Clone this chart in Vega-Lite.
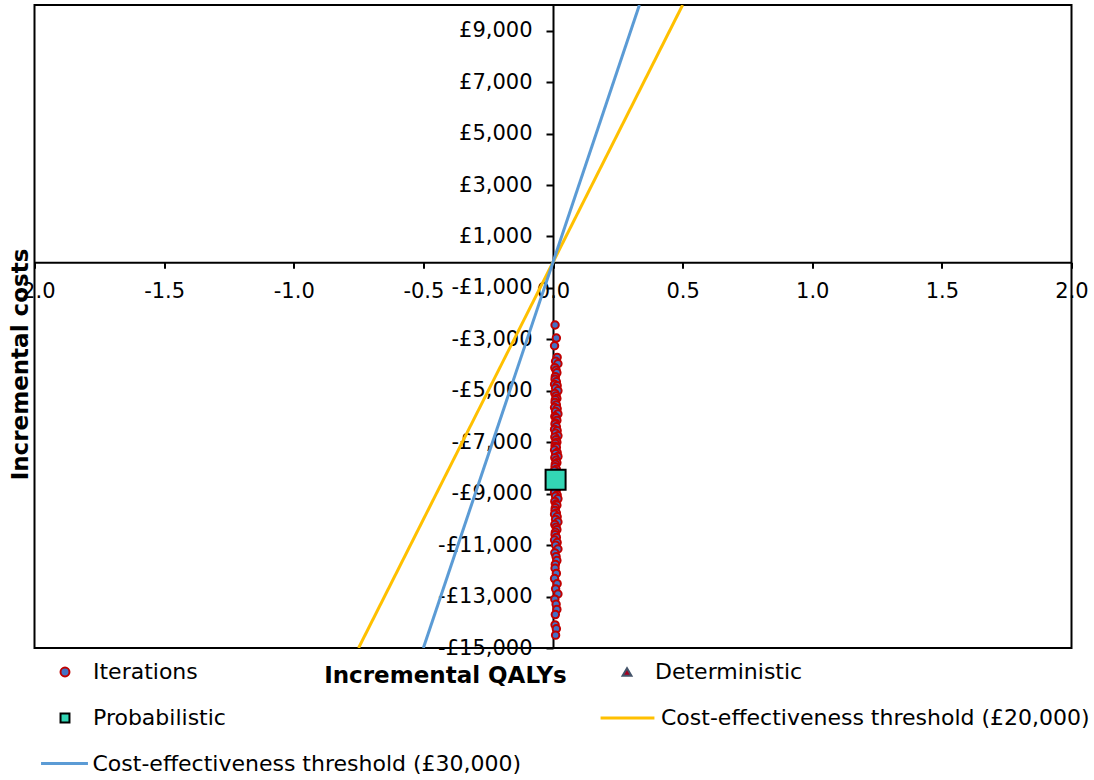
{
  "$schema": "https://vega.github.io/schema/vega-lite/v6.json",
  "width": 1037,
  "height": 643,
  "autosize": {"type": "none"},
  "padding": {"left": 34.5, "top": 5, "right": 22.5, "bottom": 132},
  "config": {
    "view": {"stroke": "black", "strokeWidth": 2},
    "font": "DejaVu Sans"
  },
  "resolve": {"scale": {"color": "independent"}},
  "datasets": {
    "line20": [
      {"series": "Cost-effectiveness threshold (£20,000)", "x": -0.75, "y": -15000},
      {"series": "Cost-effectiveness threshold (£20,000)", "x": 0.5, "y": 10000}
    ],
    "line30": [
      {"series": "Cost-effectiveness threshold (£30,000)", "x": -0.5, "y": -15000},
      {"series": "Cost-effectiveness threshold (£30,000)", "x": 0.3333, "y": 10000}
    ],
    "iterations": [
      {"series": "Iterations", "x": 0.008, "y": -2440}, {"series": "Iterations", "x": 0.013, "y": -2950}, {"series": "Iterations", "x": 0.006, "y": -3250}, {"series": "Iterations", "x": 0.016, "y": -3700},
      {"series": "Iterations", "x": 0.010, "y": -3850}, {"series": "Iterations", "x": 0.019, "y": -3950}, {"series": "Iterations", "x": 0.007, "y": -4100}, {"series": "Iterations", "x": 0.012, "y": -4200},
      {"series": "Iterations", "x": 0.015, "y": -4300}, {"series": "Iterations", "x": 0.009, "y": -4450}, {"series": "Iterations", "x": 0.008, "y": -4550}, {"series": "Iterations", "x": 0.013, "y": -4650},
      {"series": "Iterations", "x": 0.006, "y": -4750}, {"series": "Iterations", "x": 0.016, "y": -4800}, {"series": "Iterations", "x": 0.010, "y": -4900}, {"series": "Iterations", "x": 0.019, "y": -5000},
      {"series": "Iterations", "x": 0.007, "y": -5100}, {"series": "Iterations", "x": 0.012, "y": -5200}, {"series": "Iterations", "x": 0.015, "y": -5300}, {"series": "Iterations", "x": 0.009, "y": -5350},
      {"series": "Iterations", "x": 0.008, "y": -5450}, {"series": "Iterations", "x": 0.013, "y": -5550}, {"series": "Iterations", "x": 0.006, "y": -5650}, {"series": "Iterations", "x": 0.016, "y": -5700},
      {"series": "Iterations", "x": 0.010, "y": -5800}, {"series": "Iterations", "x": 0.019, "y": -5900}, {"series": "Iterations", "x": 0.007, "y": -6000}, {"series": "Iterations", "x": 0.012, "y": -6050},
      {"series": "Iterations", "x": 0.015, "y": -6150}, {"series": "Iterations", "x": 0.009, "y": -6250}, {"series": "Iterations", "x": 0.008, "y": -6300}, {"series": "Iterations", "x": 0.013, "y": -6400},
      {"series": "Iterations", "x": 0.006, "y": -6500}, {"series": "Iterations", "x": 0.016, "y": -6550}, {"series": "Iterations", "x": 0.010, "y": -6650}, {"series": "Iterations", "x": 0.019, "y": -6750},
      {"series": "Iterations", "x": 0.007, "y": -6800}, {"series": "Iterations", "x": 0.012, "y": -6900}, {"series": "Iterations", "x": 0.015, "y": -7000}, {"series": "Iterations", "x": 0.009, "y": -7050},
      {"series": "Iterations", "x": 0.008, "y": -7150}, {"series": "Iterations", "x": 0.013, "y": -7200}, {"series": "Iterations", "x": 0.006, "y": -7300}, {"series": "Iterations", "x": 0.016, "y": -7400},
      {"series": "Iterations", "x": 0.010, "y": -7450}, {"series": "Iterations", "x": 0.019, "y": -7550}, {"series": "Iterations", "x": 0.007, "y": -7600}, {"series": "Iterations", "x": 0.012, "y": -7700},
      {"series": "Iterations", "x": 0.015, "y": -7800}, {"series": "Iterations", "x": 0.009, "y": -7850}, {"series": "Iterations", "x": 0.008, "y": -7950}, {"series": "Iterations", "x": 0.013, "y": -8050},
      {"series": "Iterations", "x": 0.006, "y": -8100}, {"series": "Iterations", "x": 0.016, "y": -8200}, {"series": "Iterations", "x": 0.010, "y": -8300}, {"series": "Iterations", "x": 0.019, "y": -8350},
      {"series": "Iterations", "x": 0.007, "y": -8450}, {"series": "Iterations", "x": 0.012, "y": -8550}, {"series": "Iterations", "x": 0.015, "y": -8600}, {"series": "Iterations", "x": 0.009, "y": -8700},
      {"series": "Iterations", "x": 0.008, "y": -8800}, {"series": "Iterations", "x": 0.013, "y": -8850}, {"series": "Iterations", "x": 0.006, "y": -8950}, {"series": "Iterations", "x": 0.016, "y": -9050},
      {"series": "Iterations", "x": 0.010, "y": -9100}, {"series": "Iterations", "x": 0.019, "y": -9200}, {"series": "Iterations", "x": 0.007, "y": -9300}, {"series": "Iterations", "x": 0.012, "y": -9400},
      {"series": "Iterations", "x": 0.015, "y": -9450}, {"series": "Iterations", "x": 0.009, "y": -9550}, {"series": "Iterations", "x": 0.008, "y": -9650}, {"series": "Iterations", "x": 0.013, "y": -9750},
      {"series": "Iterations", "x": 0.006, "y": -9800}, {"series": "Iterations", "x": 0.016, "y": -9900}, {"series": "Iterations", "x": 0.010, "y": -10000}, {"series": "Iterations", "x": 0.019, "y": -10100},
      {"series": "Iterations", "x": 0.007, "y": -10200}, {"series": "Iterations", "x": 0.012, "y": -10300}, {"series": "Iterations", "x": 0.015, "y": -10400}, {"series": "Iterations", "x": 0.009, "y": -10500},
      {"series": "Iterations", "x": 0.008, "y": -10600}, {"series": "Iterations", "x": 0.013, "y": -10700}, {"series": "Iterations", "x": 0.006, "y": -10800}, {"series": "Iterations", "x": 0.016, "y": -10900},
      {"series": "Iterations", "x": 0.010, "y": -11000}, {"series": "Iterations", "x": 0.019, "y": -11150}, {"series": "Iterations", "x": 0.007, "y": -11300}, {"series": "Iterations", "x": 0.012, "y": -11450},
      {"series": "Iterations", "x": 0.015, "y": -11600}, {"series": "Iterations", "x": 0.009, "y": -11750}, {"series": "Iterations", "x": 0.008, "y": -11900}, {"series": "Iterations", "x": 0.013, "y": -12100},
      {"series": "Iterations", "x": 0.006, "y": -12300}, {"series": "Iterations", "x": 0.016, "y": -12500}, {"series": "Iterations", "x": 0.010, "y": -12700}, {"series": "Iterations", "x": 0.019, "y": -12900},
      {"series": "Iterations", "x": 0.007, "y": -13100}, {"series": "Iterations", "x": 0.012, "y": -13300}, {"series": "Iterations", "x": 0.015, "y": -13500}, {"series": "Iterations", "x": 0.009, "y": -13700},
      {"series": "Iterations", "x": 0.008, "y": -14100}, {"series": "Iterations", "x": 0.013, "y": -14250}, {"series": "Iterations", "x": 0.010, "y": -14500}
    ],
    "deterministic": [{"series": "Deterministic", "x": 0.01, "y": -8460}],
    "probabilistic": [{"series": "Probabilistic", "x": 0.01, "y": -8460}]
  },
  "encoding": {
    "x": {
      "field": "x",
      "type": "quantitative",
      "scale": {"domain": [-2, 2], "nice": false, "zero": false},
      "axis": {
        "title": "Incremental QALYs",
        "values": [-2, -1.5, -1, -0.5, 0, 0.5, 1, 1.5, 2],
        "labelExpr": "replace(format(datum.value, '.1f'), '\u2212', '-')",
        "offset": -385.8,
        "grid": false,
        "domainColor": "black",
        "domainWidth": 2,
        "tickColor": "black",
        "tickWidth": 2,
        "tickSize": 6,
        "labelPadding": 12,
        "labelFont": "DejaVu Sans",
        "labelFontSize": 21,
        "labelColor": "black",
        "labelOverlap": false,
        "labelFlush": false,
        "labelBound": false,
        "titleFont": "DejaVu Sans",
        "titleFontSize": 23,
        "titleFontWeight": "bold",
        "titleColor": "black",
        "titleX": 410.5,
        "titleY": 412.8,
        "titleAlign": "center",
        "titleBaseline": "middle"
      }
    },
    "y": {
      "field": "y",
      "type": "quantitative",
      "scale": {"domain": [-15000, 10000], "nice": false, "zero": false},
      "axis": {
        "title": "Incremental costs",
        "values": [-15000, -13000, -11000, -9000, -7000, -5000, -3000, -1000, 1000, 3000, 5000, 7000, 9000],
        "labelExpr": "(datum.value < 0 ? '-' : '') + '£' + format(abs(datum.value), ',')",
        "offset": -518.5,
        "grid": false,
        "domainColor": "black",
        "domainWidth": 2,
        "tickColor": "black",
        "tickWidth": 2,
        "tickSize": 7,
        "labelPadding": 14,
        "labelFont": "DejaVu Sans",
        "labelFontSize": 21,
        "labelColor": "black",
        "labelOverlap": false,
        "labelFlush": false,
        "labelBound": false,
        "titleFont": "DejaVu Sans",
        "titleFontSize": 23,
        "titleFontWeight": "bold",
        "titleColor": "black",
        "titleAngle": -90,
        "titleX": -533,
        "titleY": 359,
        "titleAlign": "center",
        "titleBaseline": "middle"
      }
    }
  },
  "layer": [
    {
      "data": {"name": "line20"},
      "mark": {"type": "line", "strokeWidth": 3, "clip": true},
      "encoding": {
        "color": {
          "field": "series",
          "type": "nominal",
          "scale": {"domain": ["Cost-effectiveness threshold (£20,000)"], "range": ["#FFC000"]},
          "legend": {
            "title": null, "orient": "none", "legendX": 564.5, "legendY": 684.5, "padding": 0,
            "symbolSize": 2900, "symbolStrokeWidth": 3,
            "labelFont": "DejaVu Sans", "labelFontSize": 22, "labelColor": "black", "labelOffset": 5, "labelLimit": 700
          }
        }
      }
    },
    {
      "data": {"name": "line30"},
      "mark": {"type": "line", "strokeWidth": 3, "clip": true},
      "encoding": {
        "color": {
          "field": "series",
          "type": "nominal",
          "scale": {"domain": ["Cost-effectiveness threshold (£30,000)"], "range": ["#5B9BD5"]},
          "legend": {
            "title": null, "orient": "none", "legendX": 5, "legendY": 733.5, "padding": 0,
            "symbolSize": 2200, "symbolStrokeWidth": 3,
            "labelFont": "DejaVu Sans", "labelFontSize": 22, "labelColor": "black", "labelOffset": 3, "labelLimit": 700
          }
        }
      }
    },
    {
      "data": {"name": "iterations"},
      "mark": {"type": "point", "filled": true, "strokeWidth": 2, "size": 55, "opacity": 1},
      "encoding": {
        "fill": {
          "field": "series", "type": "nominal",
          "scale": {"domain": ["Iterations", "Probabilistic", "Deterministic"], "range": ["#4472C4", "#33D6B5", "#A50021"]},
          "legend": {
            "title": null, "orient": "none", "legendX": 19.5, "legendY": 656, "padding": 0,
            "columns": 2, "columnPadding": 390, "rowPadding": 24,
            "symbolSize": 80, "symbolStrokeWidth": 2,
            "labelFont": "DejaVu Sans", "labelFontSize": 22, "labelColor": "black", "labelOffset": 17, "labelLimit": 700
          }
        },
        "stroke": {
          "field": "series", "type": "nominal",
          "scale": {"domain": ["Iterations", "Probabilistic", "Deterministic"], "range": ["#C00000", "#000000", "#44546A"]},
          "legend": {
            "title": null, "orient": "none", "legendX": 19.5, "legendY": 656, "padding": 0,
            "columns": 2, "columnPadding": 390, "rowPadding": 24,
            "symbolSize": 80, "symbolStrokeWidth": 2,
            "labelFont": "DejaVu Sans", "labelFontSize": 22, "labelColor": "black", "labelOffset": 17, "labelLimit": 700
          }
        },
        "shape": {
          "field": "series", "type": "nominal",
          "scale": {"domain": ["Iterations", "Probabilistic", "Deterministic"], "range": ["circle", "square", "triangle-up"]},
          "legend": {
            "title": null, "orient": "none", "legendX": 19.5, "legendY": 656, "padding": 0,
            "columns": 2, "columnPadding": 390, "rowPadding": 24,
            "symbolSize": 80, "symbolStrokeWidth": 2,
            "labelFont": "DejaVu Sans", "labelFontSize": 22, "labelColor": "black", "labelOffset": 17, "labelLimit": 700
          }
        }
      }
    },
    {
      "data": {"name": "deterministic"},
      "mark": {"type": "point", "shape": "triangle-up", "filled": true, "fill": "#A50021", "stroke": "#44546A", "strokeWidth": 1, "size": 110, "opacity": 1}
    },
    {
      "data": {"name": "probabilistic"},
      "mark": {"type": "point", "shape": "square", "filled": true, "fill": "#33D6B5", "stroke": "#000000", "strokeWidth": 2, "size": 400, "opacity": 1}
    }
  ]
}
